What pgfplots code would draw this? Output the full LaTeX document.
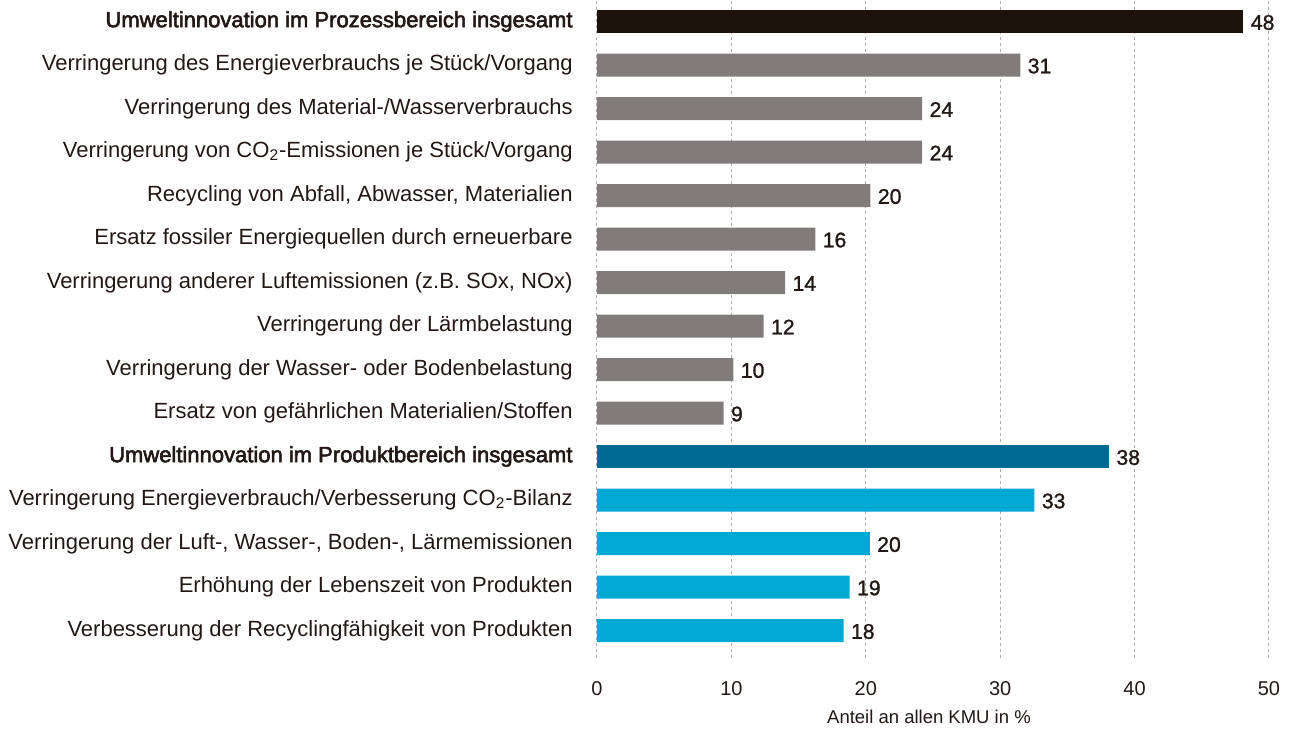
\documentclass[border=0pt]{standalone}
\usepackage{pgfplots}
\pgfplotsset{compat=1.18}
\usepackage{pgfplotstable}
\usepackage{fontspec}
\setmainfont{Liberation Sans}
\newfontfamily\medfont[FakeBold=2.6]{Liberation Sans}
\newfontfamily\valfont[FakeBold=1.2]{Liberation Sans}
\definecolor{txt}{HTML}{231815}
\definecolor{cblack}{HTML}{1C120B}
\definecolor{cgrey}{HTML}{807C7B}
\definecolor{cdblue}{HTML}{006A92}
\definecolor{clblue}{HTML}{00A8D4}
\definecolor{gridc}{HTML}{B0B0B0}

\pgfplotstableread{
y x lab
0 48.1 48
}\tblack
\pgfplotstableread{
y x lab
1 31.5 31
2 24.2 24
3 24.2 24
4 20.35 20
5 16.25 16
6 14.0 14
7 12.4 12
8 10.15 10
9 9.42 9
}\tgrey
\pgfplotstableread{
y x lab
10 38.1 38
}\tdblue
\pgfplotstableread{
y x lab
11 32.55 33
12 20.3 20
13 18.8 19
14 18.35 18
}\tlblue

\begin{document}
\begin{tikzpicture}
\begin{axis}[
  scale only axis,
  width=336pt, height=330pt,
  xmin=0, xmax=50,
  ymin=-0.483, ymax=14.69,
  y dir=reverse,
  axis line style={draw=none},
  xtick={0,10,20,30,40,50},
  ytick={0,...,14},
  yticklabels={
    {\medfont Umweltinnovation im Prozessbereich insgesamt},
    Verringerung des Energieverbrauchs je Stück/Vorgang,
    Verringerung des Material-/Wasserverbrauchs,
    Verringerung von CO\textsubscript{2}-Emissionen je Stück/Vorgang,
    {Recycling von Abfall, Abwasser, Materialien},
    Ersatz fossiler Energiequellen durch erneuerbare,
    {Verringerung anderer Luftemissionen (z.B. SOx, NOx)},
    Verringerung der Lärmbelastung,
    Verringerung der Wasser- oder Bodenbelastung,
    Ersatz von gefährlichen Materialien/Stoffen,
    {\medfont Umweltinnovation im Produktbereich insgesamt},
    Verringerung Energieverbrauch/Verbesserung CO\textsubscript{2}-Bilanz,
    {Verringerung der Luft-, Wasser-, Boden-, Lärmemissionen},
    Erhöhung der Lebenszeit von Produkten,
    Verbesserung der Recyclingfähigkeit von Produkten},
  major tick length=0pt,
  tick style={draw=none},
  yticklabel style={font=\fontsize{11pt}{13pt}\selectfont, text=txt, inner sep=0pt, anchor=east, xshift=-12pt},
  xticklabel style={font=\fontsize{10pt}{12pt}\selectfont, text=txt, inner sep=0pt, anchor=north, yshift=-10.5pt},
  /pgf/number format/assume math mode=true,
  xmajorgrids,
  major grid style={draw=gridc, line width=0.5pt, dash pattern=on 1.5pt off 1.5pt},
  xlabel={Anteil an allen KMU in \%},
  xlabel style={font=\fontsize{9.25pt}{11pt}\selectfont, text=txt, at={(axis description cs:0.494,0)}, anchor=center, yshift=-28pt},
  xbar, bar width=11.5pt, bar shift=0pt,
  nodes near coords,
  point meta=explicit symbolic,
  every node near coord/.append style={font=\valfont\fontsize{10.6pt}{12pt}\selectfont, text=txt, anchor=west, inner sep=0pt, xshift=3.5pt, yshift=-0.5pt},
  clip=false,
]
\addplot[fill=cblack, draw=none] table[x=x, y=y, meta=lab] {\tblack};
\addplot[fill=cgrey, draw=none] table[x=x, y=y, meta=lab] {\tgrey};
\addplot[fill=cdblue, draw=none] table[x=x, y=y, meta=lab] {\tdblue};
\addplot[fill=clblue, draw=none] table[x=x, y=y, meta=lab] {\tlblue};
\end{axis}
\path ([xshift=-298.5pt,yshift=-33pt]current axis.south west) rectangle ([xshift=13pt]current axis.north east);
\end{tikzpicture}
\end{document}
